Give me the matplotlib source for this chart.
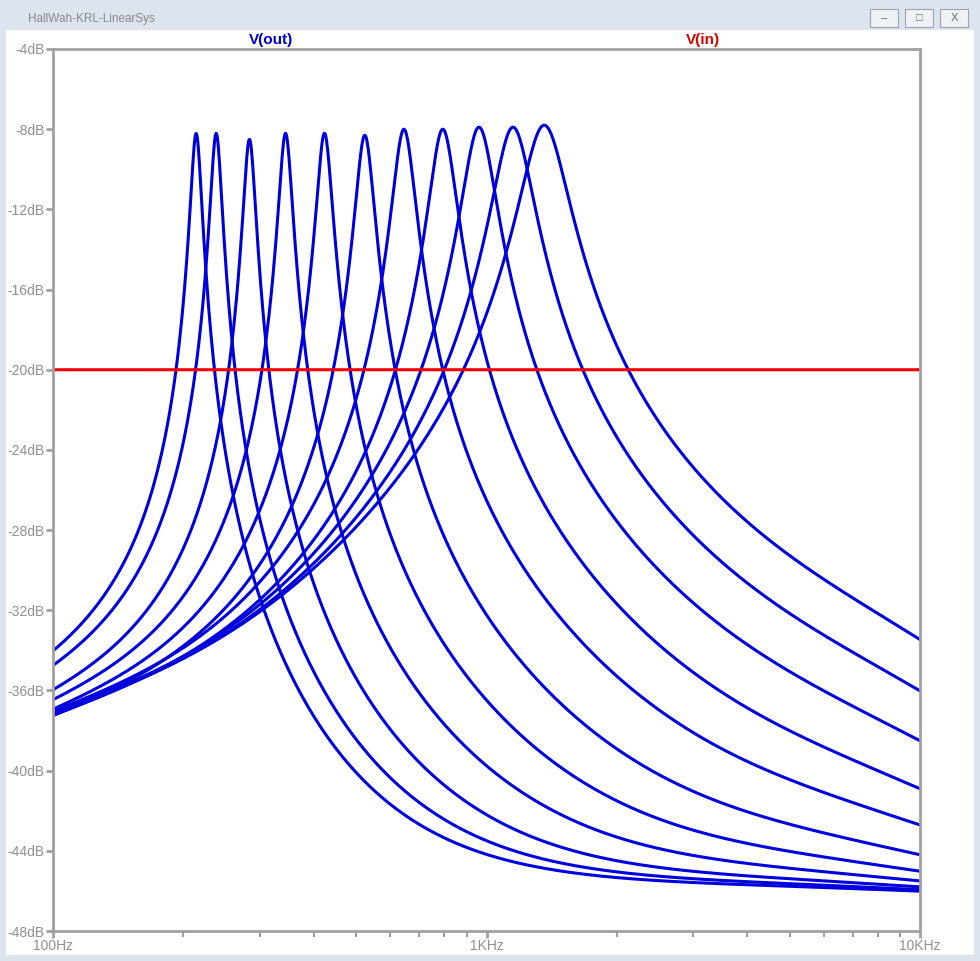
import numpy as np
import matplotlib
matplotlib.use("Agg")
import matplotlib.pyplot as plt
from matplotlib.patches import Rectangle
from matplotlib.ticker import FixedLocator, NullFormatter

plt.rcParams['font.family'] = ['Liberation Sans', 'DejaVu Sans']

# values: centre freq (Hz), peak level (dB), resonance Q
peak_freq = [214, 238, 284, 344, 423, 524, 645, 793, 961, 1151, 1358]
peak_db = [-8.2, -8.2, -8.5, -8.2, -8.2, -8.3, -8.0, -8.0, -7.9, -7.9, -7.8]
q_res = [18.5, 18, 17, 15.5, 13.5, 11.3, 9.2, 7.7, 6.3, 5.25, 4.45]
floor_lvl = 0.0048  # high-side floor (~ -46 dB)
vin_db = -20.0

f = np.logspace(2, 4, 1500)


def bp(freq, f0, q):
    r = freq / f0
    return (1j * r / q) / (1 - r**2 + 1j * r / q)


def shelf(freq):
    # common shelving of the skirts (low and high side)
    return (1 + 170 / (1j * freq)) / (1 + 60 / (1j * freq)) * \
        (1 + 1j * freq / 5000) / (1 + 1j * freq / 10000)


fig = plt.figure(figsize=(9.8, 9.61), dpi=100)
fig.patch.set_facecolor("white")
# window chrome
chrome = "#dce4ee"
for rect in [(0, 1 - 30 / 961, 1, 30 / 961), (0, 0, 6 / 980, 1),
             (1 - 6 / 980, 0, 6 / 980, 1), (0, 0, 1, 6 / 961)]:
    fig.patches.append(Rectangle(rect[:2], rect[2], rect[3], transform=fig.transFigure,
                                 facecolor=chrome, edgecolor="none", zorder=0))
fig.text(28 / 980, 1 - 19 / 961, "HallWah-KRL-LinearSys", fontsize=8.5, color="#888888",
         va="center")
for i, s in enumerate(["\u2013", "\u25a1", "X"]):
    x0 = (870 + i * 35) / 980
    fig.patches.append(Rectangle((x0, 1 - 27 / 961), 28 / 980, 18 / 961, transform=fig.transFigure,
                                 facecolor="#eef2f6", edgecolor="#9aa4b0", lw=0.8, zorder=1))
    fig.text(x0 + 14 / 980, 1 - 18 / 961, s, fontsize=8, color="#666666", ha="center", va="center")

ax = fig.add_axes([53 / 980, 1 - 931 / 961, (920 - 53) / 980, (931 - 49) / 961])
for f0, pk, q in zip(peak_freq, peak_db, q_res):
    amp = (10 ** (pk / 20) - floor_lvl) / abs(shelf(f0))
    h = amp * bp(f, f0, q) * shelf(f) + floor_lvl
    ax.plot(f, 20 * np.log10(np.abs(h)), color="#0000dd", lw=2.2)
ax.plot(f, np.full_like(f, vin_db), color="#ee0000", lw=2.2)

ax.set_xscale("log")
ax.set_xlim(100, 10000)
ax.set_ylim(-48, -4)
ax.set_yticks(np.arange(-48, -3, 4))
ax.set_yticklabels([f"{v}dB" for v in range(-48, -3, 4)])
ax.xaxis.set_major_locator(FixedLocator([100, 1000, 10000]))
ax.set_xticklabels(["100Hz", "1KHz", "10KHz"])
ax.xaxis.set_minor_locator(FixedLocator([k * m for m in (100, 1000) for k in range(2, 10)]))
ax.xaxis.set_minor_formatter(NullFormatter())
for sp in ax.spines.values():
    sp.set_color("#a0a0a0")
    sp.set_linewidth(2)
ax.tick_params(colors="#a0a0a0", labelcolor="#909090", labelsize=10, width=2, length=5, pad=1)
ax.tick_params(axis="x", which="minor", colors="#a0a0a0", width=1.5, length=4)
fig.text(271 / 980, 1 - 40 / 961, "V(out)", color="#0000cc", fontsize=11, fontweight="bold",
         ha="center", va="center")
fig.text(703 / 980, 1 - 40 / 961, "V(in)", color="#dd0000", fontsize=11, fontweight="bold",
         ha="center", va="center")
fig.savefig("out.png", dpi=100)
